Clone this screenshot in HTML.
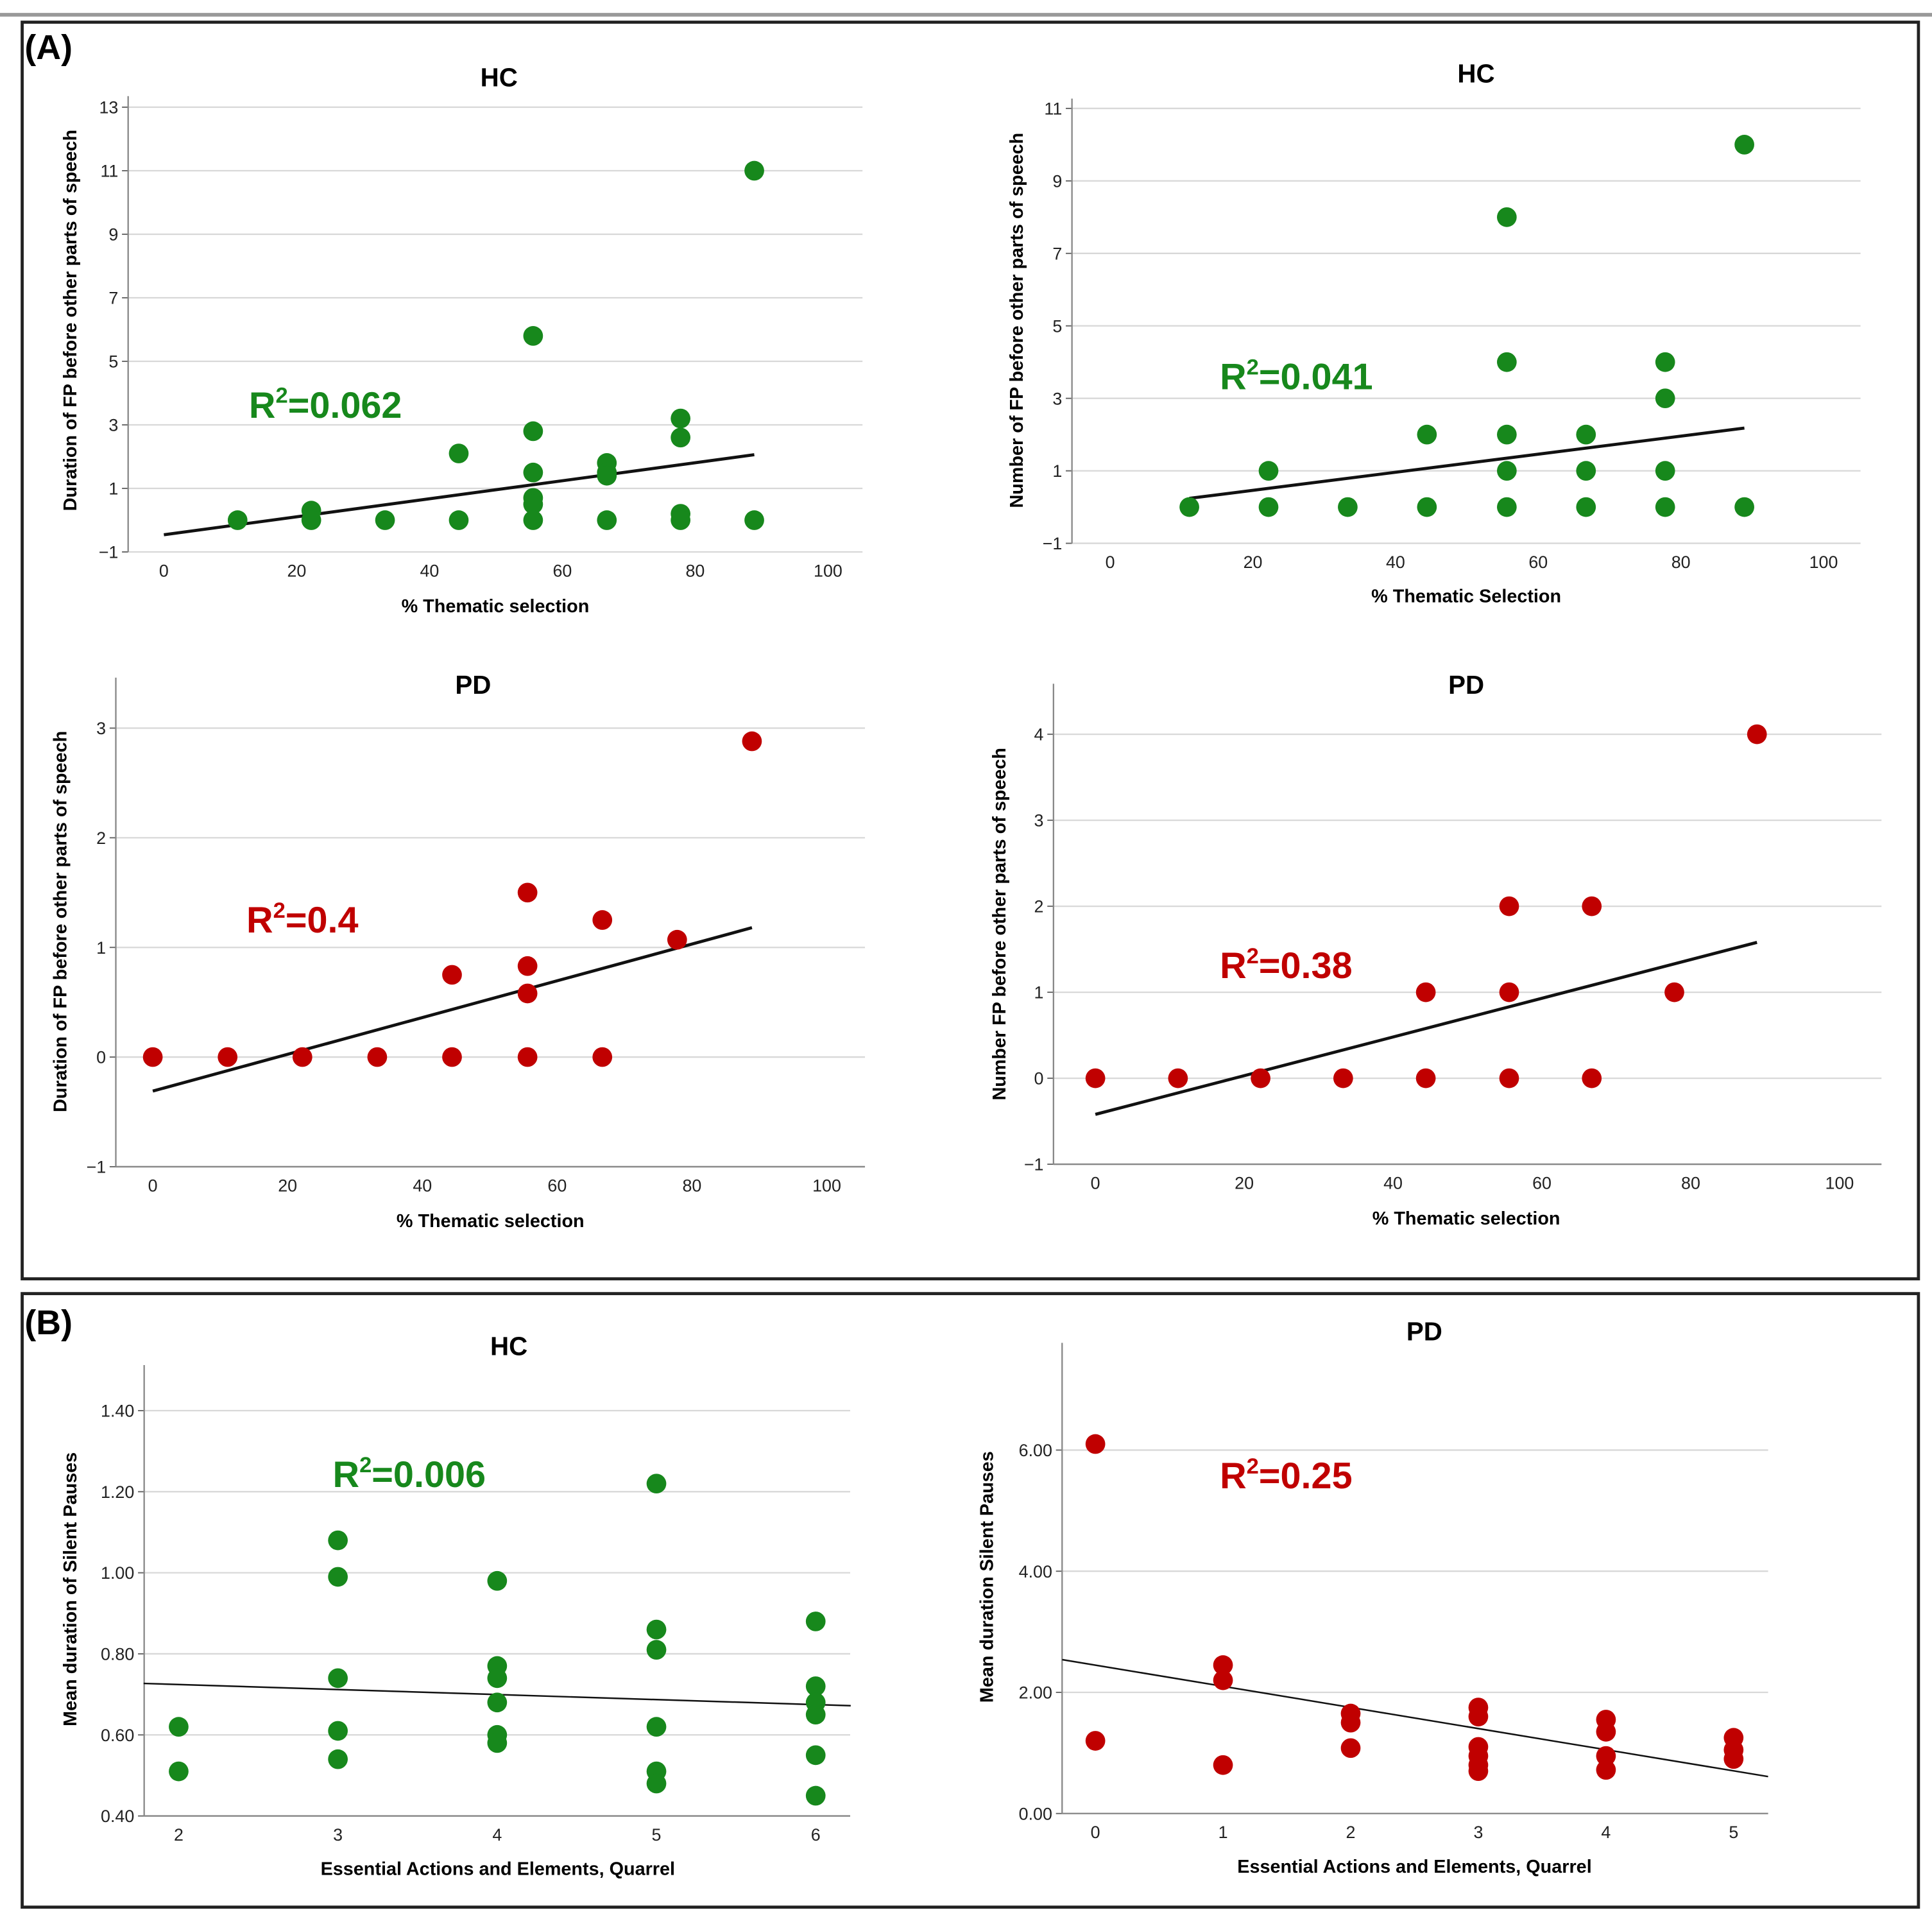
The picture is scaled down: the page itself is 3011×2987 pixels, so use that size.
<!DOCTYPE html>
<html><head><meta charset="utf-8"><style>
html,body{margin:0;padding:0;background:#fff;}
svg{display:block;font-family:"Liberation Sans",sans-serif;}
</style></head><body>
<svg id="fig" width="3011" height="2987" viewBox="0 0 1568 1556" preserveAspectRatio="none" xmlns="http://www.w3.org/2000/svg">
<rect x="0" y="0" width="1568" height="1556" fill="#fff"/>
<line x1="0" y1="12" x2="1568" y2="12" stroke="#999" stroke-width="3"/>
<rect x="18" y="18" width="1539" height="1020" fill="none" stroke="#222" stroke-width="2.5"/>
<rect x="18" y="1050" width="1539" height="498" fill="none" stroke="#222" stroke-width="2.5"/>
<text x="20" y="48" font-size="28" font-weight="bold">(A)</text>
<text x="20" y="1083" font-size="28" font-weight="bold">(B)</text>
</svg>
<script>
// ---- data ----
const p1X=[11.1,22.2,22.2,33.3,44.4,44.4,55.6,55.6,55.6,55.6,55.6,55.6,66.7,66.7,66.7,66.7,77.8,77.8,77.8,77.8,88.9,88.9];
const p1Y=[0,0.3,0,0,2.1,0,5.8,2.8,1.5,0.7,0.5,0,1.8,1.5,1.4,0,3.2,2.6,0.2,0,11,0];
const p1Fit=[0,-0.46,88.9,2.06];
const p1YTicks=[-1,1,3,5,7,9,11,13];
const p1XTicks=[0,20,40,60,80,100];

const p2X=[11.1,22.2,22.2,33.3,44.4,44.4,55.6,55.6,55.6,55.6,55.6,66.7,66.7,66.7,77.8,77.8,77.8,77.8,88.9,88.9];
const p2Y=[0,1,0,0,2,0,8,4,2,1,0,2,1,0,4,3,1,0,10,0];
const p2Fit=[11.1,0.24,88.9,2.18];
const p2YTicks=[-1,1,3,5,7,9,11];
const p2XTicks=[0,20,40,60,80,100];

const p3X=[0,11.1,22.2,33.3,44.4,44.4,55.6,55.6,55.6,55.6,66.7,66.7,77.8,88.9];
const p3Y=[0,0,0,0,0.75,0,1.5,0.83,0.58,0,1.25,0,1.07,2.88];
const p3Fit=[0,-0.31,88.9,1.18];
const p3YTicks=[-1,0,1,2,3];
const p3XTicks=[0,20,40,60,80,100];

const p4X=[0,11.1,22.2,33.3,44.4,44.4,55.6,55.6,55.6,66.7,66.7,77.8,88.9];
const p4Y=[0,0,0,0,1,0,2,1,0,2,0,1,4];
const p4Fit=[0,-0.42,88.9,1.58];
const p4YTicks=[-1,0,1,2,3,4];
const p4XTicks=[0,20,40,60,80,100];

const p5X=[2,2,3,3,3,3,3,4,4,4,4,4,4,5,5,5,5,5,5,6,6,6,6,6,6];
const p5Y=[0.62,0.51,1.08,0.99,0.74,0.61,0.54,0.98,0.77,0.74,0.68,0.60,0.58,1.22,0.86,0.81,0.62,0.51,0.48,0.88,0.72,0.68,0.65,0.55,0.45];
const p5Fit=[1.78,0.727,6.22,0.672];
const p5YTicks=[0.4,0.6,0.8,1.0,1.2,1.4];
const p5XTicks=[2,3,4,5,6];

const p6X=[0,0,1,1,1,2,2,2,3,3,3,3,3,3,4,4,4,4,5,5,5];
const p6Y=[6.1,1.2,2.45,2.2,0.8,1.65,1.5,1.08,1.75,1.6,1.1,0.95,0.8,0.7,1.55,1.35,0.95,0.72,1.25,1.05,0.9];
const p6Fit=[-0.26,2.54,5.27,0.61];
const p6YTicks=[0,2,4,6];
const p6XTicks=[0,1,2,3,4,5];

const plots=[
 {id:'a-hc-duration',xs:p1X,ys:p1Y,fit:p1Fit,yt:p1YTicks,xt:p1XTicks,ax:104,gx:700,yTop:78,yBot:448,yv0:-1,yv1:13,yp0:448,yp1:87,xv0:0,xv1:100,xp0:133,xp1:672,col:'#17881c',title:'HC',tx:405,ty:70,xl:'% Thematic selection',xlx:402,xly:497,yl:'Duration of FP before other parts of speech',ylx:62,yly:260,r:'0.062',rx:202,ry:339,dec:0,axisLine:false,fitW:2.5},
 {id:'a-hc-number',xs:p2X,ys:p2Y,fit:p2Fit,yt:p2YTicks,xt:p2XTicks,ax:870,gx:1510,yTop:80,yBot:441,yv0:-1,yv1:11,yp0:441,yp1:88,xv0:0,xv1:100,xp0:901,xp1:1480,col:'#17881c',title:'HC',tx:1198,ty:67,xl:'% Thematic Selection',xlx:1190,xly:489,yl:'Number of FP before other parts of speech',ylx:830,yly:260,r:'0.041',rx:990,ry:316,dec:0,axisLine:false,fitW:2.5},
 {id:'a-pd-duration',xs:p3X,ys:p3Y,fit:p3Fit,yt:p3YTicks,xt:p3XTicks,ax:94,gx:702,yTop:550,yBot:947,yv0:-1,yv1:3,yp0:947,yp1:591,xv0:0,xv1:100,xp0:124,xp1:671,col:'#c00000',title:'PD',tx:384,ty:563,xl:'% Thematic selection',xlx:398,xly:996,yl:'Duration of FP before other parts of speech',ylx:54,yly:748,r:'0.4',rx:200,ry:757,dec:0,axisLine:true,fitW:2.5},
 {id:'a-pd-number',xs:p4X,ys:p4Y,fit:p4Fit,yt:p4YTicks,xt:p4XTicks,ax:855,gx:1527,yTop:555,yBot:945,yv0:-1,yv1:4,yp0:945,yp1:596,xv0:0,xv1:100,xp0:889,xp1:1493,col:'#c00000',title:'PD',tx:1190,ty:563,xl:'% Thematic selection',xlx:1190,xly:994,yl:'Number FP before other parts of speech',ylx:816,yly:750,r:'0.38',rx:990,ry:794,dec:0,axisLine:true,fitW:2.5},
 {id:'b-hc-silent',xs:p5X,ys:p5Y,fit:p5Fit,yt:p5YTicks,xt:p5XTicks,ax:117,gx:690,yTop:1108,yBot:1474,yv0:0.4,yv1:1.4,yp0:1474,yp1:1145,xv0:2,xv1:6,xp0:145,xp1:662,col:'#17881c',title:'HC',tx:413,ty:1100,xl:'Essential Actions and Elements, Quarrel',xlx:404,xly:1522,yl:'Mean duration of Silent Pauses',ylx:62,yly:1290,r:'0.006',rx:270,ry:1207,dec:2,axisLine:true,fitW:1.3},
 {id:'b-pd-silent',xs:p6X,ys:p6Y,fit:p6Fit,yt:p6YTicks,xt:p6XTicks,ax:862,gx:1435,yTop:1090,yBot:1472,yv0:0,yv1:6,yp0:1472,yp1:1177,xv0:0,xv1:5,xp0:889,xp1:1407,col:'#c00000',title:'PD',tx:1156,ty:1088,xl:'Essential Actions and Elements, Quarrel',xlx:1148,xly:1520,yl:'Mean duration Silent Pauses',ylx:806,yly:1280,r:'0.25',rx:990,ry:1208,dec:2,axisLine:true,fitW:1.3}
];
const NS='http://www.w3.org/2000/svg';
const svg=document.getElementById('fig');
function mk(tag,attrs,parent){const e=document.createElementNS(NS,tag);for(const k in attrs)e.setAttribute(k,attrs[k]);(parent||svg).appendChild(e);return e;}
plots.forEach(p=>{
 const sx=v=>p.xp0+(v-p.xv0)/(p.xv1-p.xv0)*(p.xp1-p.xp0);
 const sy=v=>p.yp0+(v-p.yv0)/(p.yv1-p.yv0)*(p.yp1-p.yp0);
 const g=mk('g',{});
 
 
 p.yt.forEach(t=>{
  const y=sy(t);
  const gl=mk('line',{x1:p.ax,y1:y,x2:p.gx,y2:y,stroke:'#d8d8d8','stroke-width':1.2},g);
  
  
  const tk=mk('line',{x1:p.ax-5,y1:y,x2:p.ax,y2:y,stroke:'#666','stroke-width':1},g);
  
  
  const tl=mk('text',{x:p.ax-8,y:y+5,'font-size':14,'text-anchor':'end',fill:'#222'},g);
  tl.textContent=(t<0?'\u2212'+Math.abs(t):t.toFixed(p.dec));
  
  
 });
 const ya=mk('line',{x1:p.ax,y1:p.yTop,x2:p.ax,y2:p.yBot,stroke:'#888','stroke-width':1.2},g);
 
 
 if(p.axisLine){const xa=mk('line',{x1:p.ax,y1:p.yBot,x2:p.gx,y2:p.yBot,stroke:'#888','stroke-width':1.2},g);
  
  }
 p.xt.forEach(t=>{
  const x=sx(t);
  const tl=mk('text',{x:x,y:p.yBot+20,'font-size':14,'text-anchor':'middle',fill:'#222'},g);
  tl.textContent=t;
  
  
 });
 const f=p.fit;
 const fl=mk('line',{x1:sx(f[0]),y1:sy(f[1]),x2:sx(f[2]),y2:sy(f[3]),stroke:'#111','stroke-width':p.fitW},g);
 
 
 p.xs.forEach((xv,i)=>{
  const c=mk('circle',{cx:sx(xv),cy:sy(p.ys[i]),r:8,fill:p.col},g);
  
  
 });
 const ti=mk('text',{x:p.tx,y:p.ty,'font-size':21,'font-weight':'bold','text-anchor':'middle'},g);
 ti.textContent=p.title;
 
 
 const xl=mk('text',{x:p.xlx,y:p.xly,'font-size':15,'font-weight':'bold','text-anchor':'middle'},g);
 xl.textContent=p.xl;
 
 
 const yl=mk('text',{x:p.ylx,y:p.yly,'font-size':15,'font-weight':'bold','text-anchor':'middle',transform:'rotate(-90 '+p.ylx+' '+p.yly+')'},g);
 yl.textContent=p.yl;
 
 
 const rt=mk('text',{x:p.rx,y:p.ry,'font-size':30,'font-weight':'bold',fill:p.col},g);
 rt.innerHTML='R<tspan dy="-12" font-size="18">2</tspan><tspan dy="12">='+p.r+'</tspan>';
 
 
});
</script>
</body></html>
